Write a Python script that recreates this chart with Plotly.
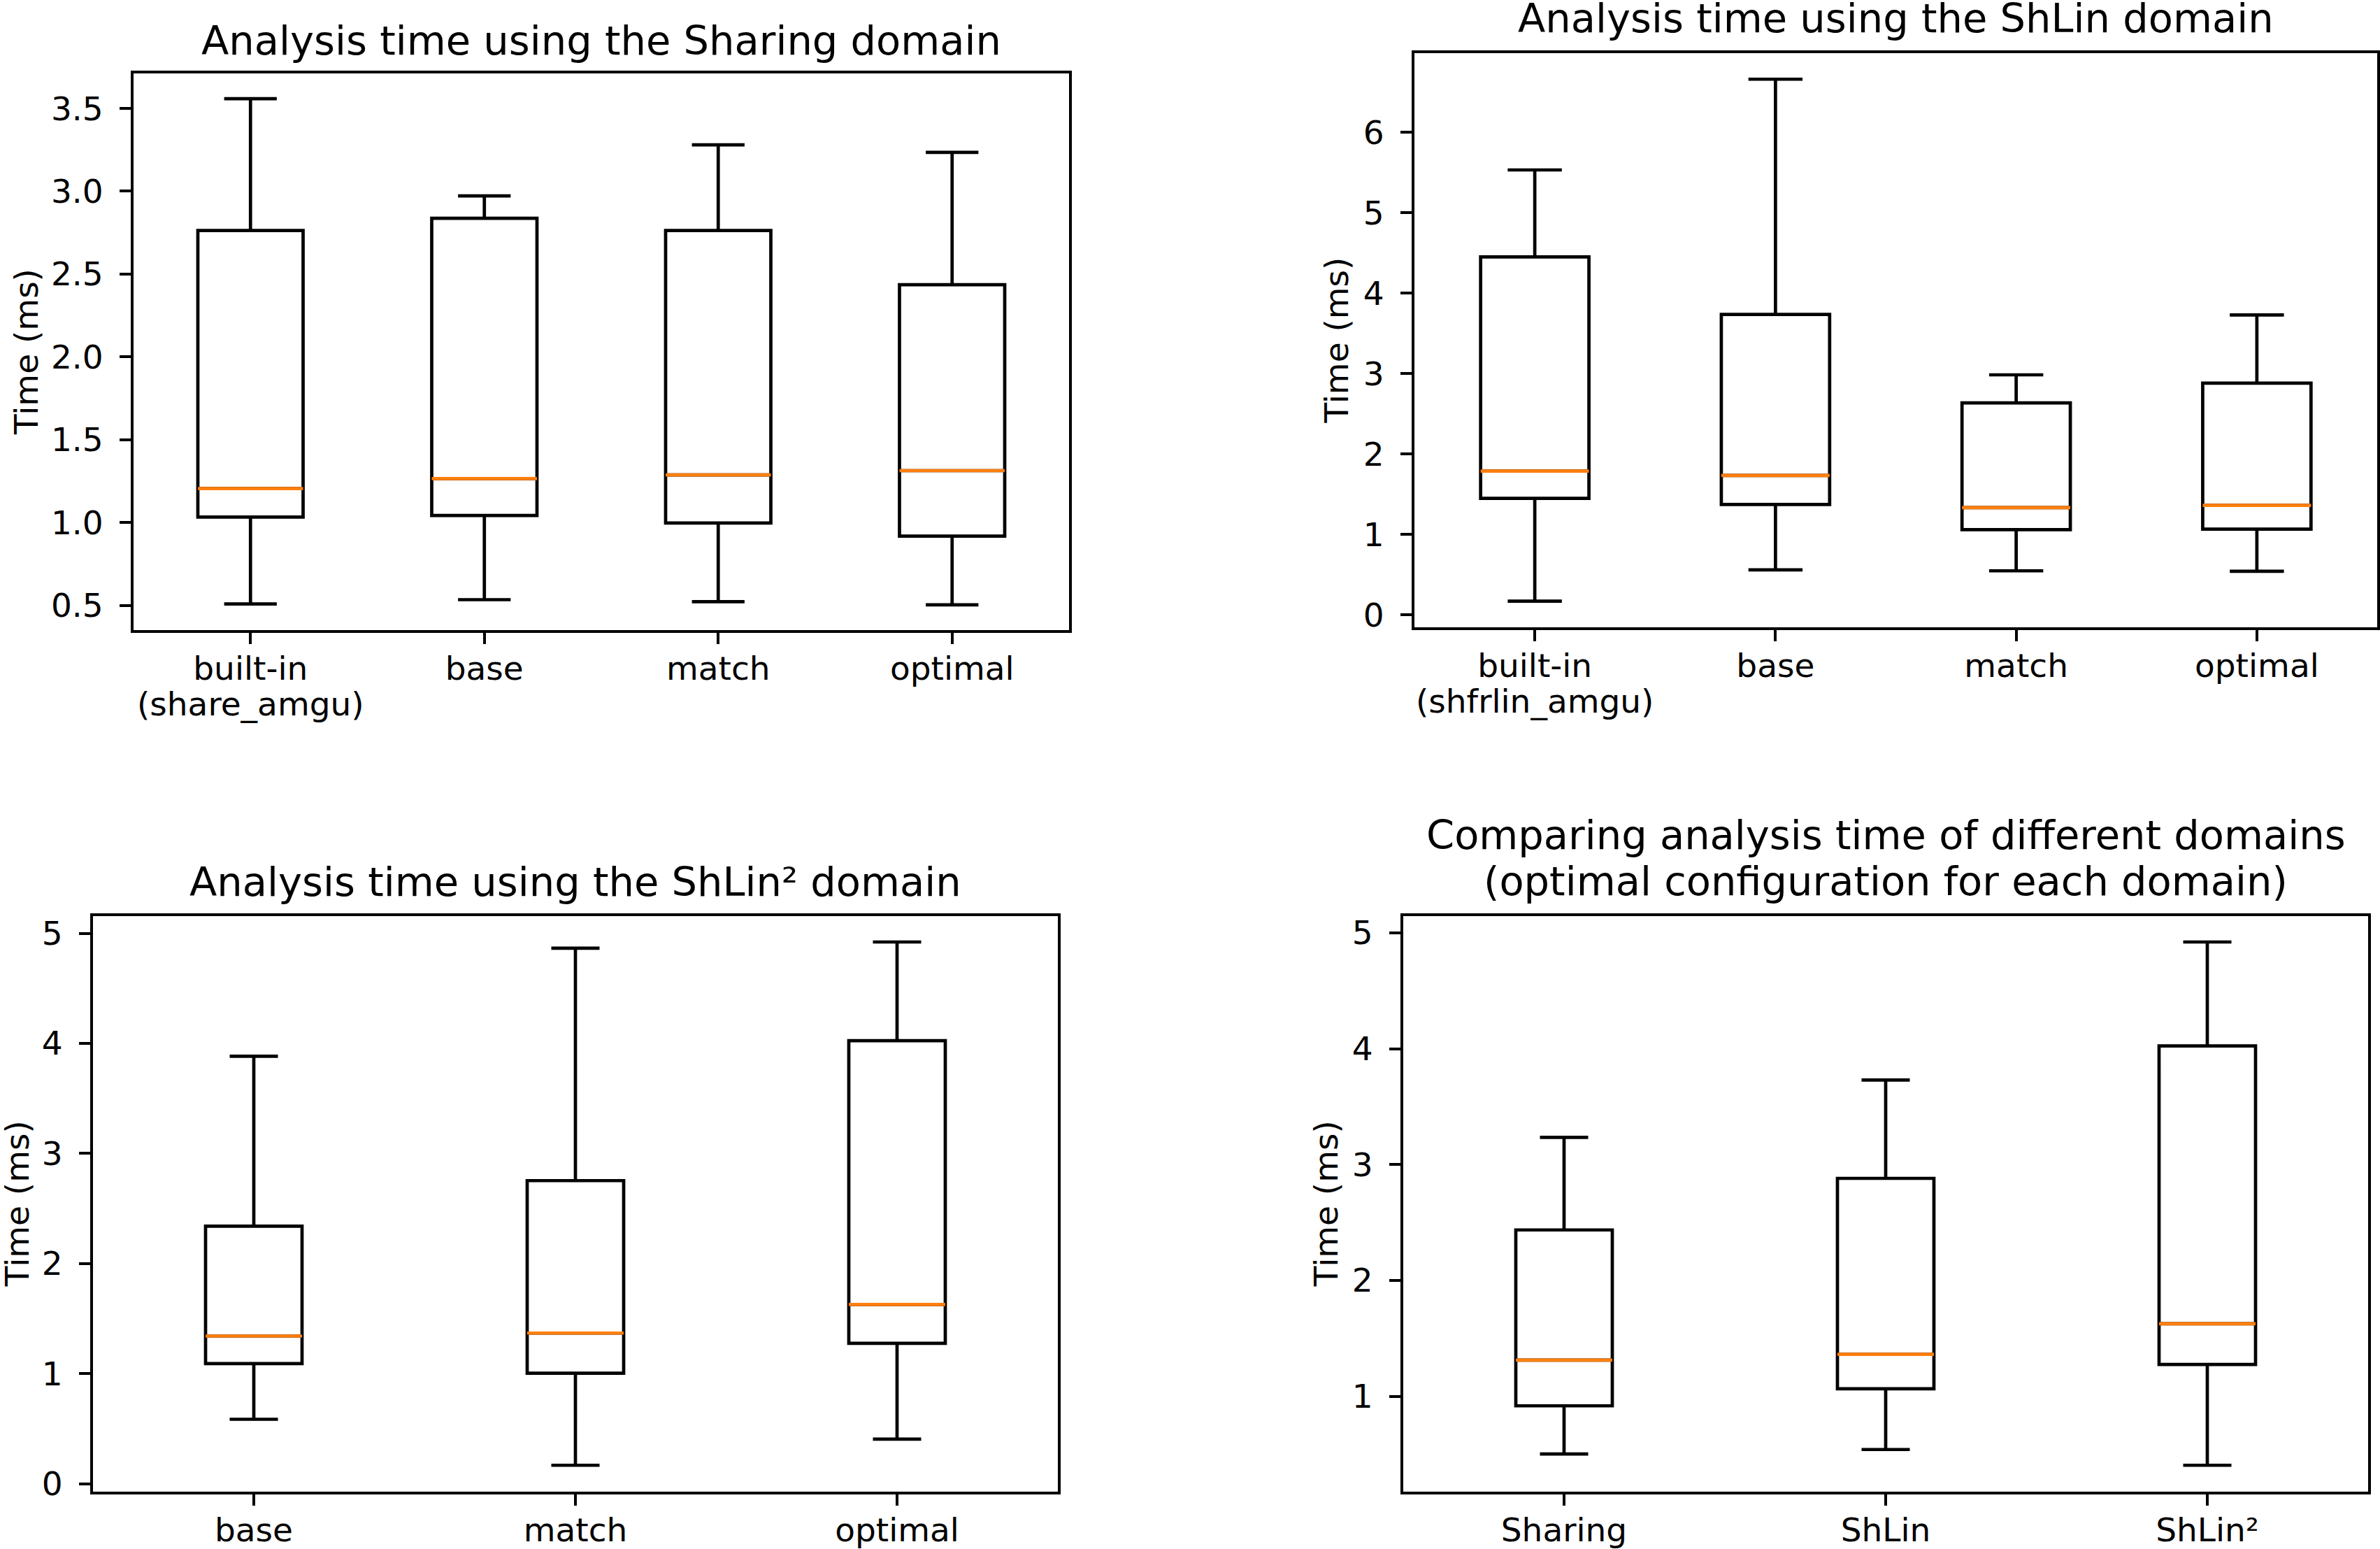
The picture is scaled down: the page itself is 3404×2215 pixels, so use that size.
import plotly.graph_objects as go

W, H = 3404, 2215

# ---------------- data ----------------
sharing_labels = ["built-in<br>(share_amgu)", "base", "match", "optimal"]
sharing_low = [0.508, 0.534, 0.522, 0.503]
sharing_q1 = [1.033, 1.042, 0.997, 0.918]
sharing_med = [1.205, 1.265, 1.287, 1.313]
sharing_q3 = [2.763, 2.837, 2.763, 2.436]
sharing_high = [3.559, 2.972, 3.280, 3.235]
sharing_ticks = [0.5, 1.0, 1.5, 2.0, 2.5, 3.0, 3.5]

shlin_labels = ["built-in<br>(shfrlin_amgu)", "base", "match", "optimal"]
shlin_low = [0.169, 0.559, 0.547, 0.541]
shlin_q1 = [1.449, 1.373, 1.059, 1.065]
shlin_med = [1.787, 1.734, 1.333, 1.362]
shlin_q3 = [4.452, 3.736, 2.636, 2.881]
shlin_high = [5.534, 6.663, 2.985, 3.730]
shlin_ticks = [0, 1, 2, 3, 4, 5, 6]

shlin2_labels = ["base", "match", "optimal"]
shlin2_low = [0.585, 0.167, 0.405]
shlin2_q1 = [1.091, 1.003, 1.275]
shlin2_med = [1.341, 1.368, 1.627]
shlin2_q3 = [2.339, 2.753, 4.024]
shlin2_high = [3.883, 4.864, 4.921]
shlin2_ticks = [0, 1, 2, 3, 4, 5]

compare_labels = ["Sharing", "ShLin", "ShLin²"]
compare_low = [sharing_low[3], shlin_low[3], shlin2_low[2]]
compare_q1 = [sharing_q1[3], shlin_q1[3], shlin2_q1[2]]
compare_med = [sharing_med[3], shlin_med[3], shlin2_med[2]]
compare_q3 = [sharing_q3[3], shlin_q3[3], shlin2_q3[2]]
compare_high = [sharing_high[3], shlin_high[3], shlin2_high[2]]
compare_ticks = [1, 2, 3, 4, 5]

titles = [
    ["Analysis time using the Sharing domain"],
    ["Analysis time using the ShLin domain"],
    ["Analysis time using the ShLin² domain"],
    ["Comparing analysis time of different domains",
     "(optimal configuration for each domain)"],
]
ylabel = "Time (ms)"

# ---------------- layout geometry (pixels) ----------------
FONT = "DejaVu Sans"
TICK_PX = 47
TITLE_PX = 57.5
LW = 4.7       # 1pt lines
SPINE = 3.8    # 0.8pt spines
YS = 0.9925    # observed vertical scale of the rendered page

# axes boxes: left, right, top, bottom (px)
boxes = [
    (191, 1529, 102, 899),
    (2023, 3400, 73, 895),
    (133, 1513, 1308, 2132),
    (2007, 3387, 1308, 2132),
]
title_baselines = [[75], [43], [1280], [1213, 1279]]
ylabel_x = [38, 1911, 24, 1896]

panels = [
    (sharing_labels, sharing_low, sharing_q1, sharing_med, sharing_q3, sharing_high, sharing_ticks, "{:.1f}"),
    (shlin_labels, shlin_low, shlin_q1, shlin_med, shlin_q3, shlin_high, shlin_ticks, "{:d}"),
    (shlin2_labels, shlin2_low, shlin2_q1, shlin2_med, shlin2_q3, shlin2_high, shlin2_ticks, "{:d}"),
    (compare_labels, compare_low, compare_q1, compare_med, compare_q3, compare_high, compare_ticks, "{:d}"),
]


def px_x(px):
    return px / W


def px_y(px):
    return 1 - px / (H * YS)


fig = go.Figure()
layout = {}
annotations = []

for i, (labels, low, q1, med, q3, high, ticks, fmt) in enumerate(panels):
    n = len(labels)
    pos = list(range(1, n + 1))
    w = min(max(0.15 * (n - 1), 0.15), 0.5)
    suffix = "" if i == 0 else str(i + 1)
    xa, ya = "x" + suffix, "y" + suffix

    fig.add_trace(go.Box(
        x=pos, q1=q1, median=med, q3=q3, lowerfence=low, upperfence=high,
        width=w, whiskerwidth=0.5, boxpoints=False,
        line=dict(color="black", width=LW), fillcolor="rgba(0,0,0,0)",
        xaxis=xa, yaxis=ya, showlegend=False, hoverinfo="skip",
    ))
    mx, my = [], []
    for p, m in zip(pos, med):
        mx += [p - w / 2, p + w / 2, None]
        my += [m, m, None]
    fig.add_trace(go.Scatter(
        x=mx, y=my, mode="lines", line=dict(color="#ff7f0e", width=LW),
        xaxis=xa, yaxis=ya, showlegend=False, hoverinfo="skip",
    ))

    lo, hi = min(low), max(high)
    pad = 0.05 * (hi - lo)
    l, r, t, b = boxes[i]
    common = dict(
        showline=True, linecolor="black", linewidth=SPINE, mirror=True,
        ticks="outside", ticklen=16, tickwidth=SPINE, tickcolor="black",
        showgrid=False, zeroline=False,
        tickfont=dict(family=FONT, size=TICK_PX, color="black"),
    )
    first_lines = [s.split("<br>")[0] for s in labels]
    layout["xaxis" + suffix] = dict(
        common, domain=[px_x(l), px_x(r)], range=[0.5, n + 0.5],
        tickvals=pos, ticktext=first_lines, anchor=ya, tickangle=0,
        ticklabelstandoff=-5,
    )
    layout["yaxis" + suffix] = dict(
        common, domain=[px_y(b), px_y(t)], range=[lo - pad, hi + pad],
        tickvals=ticks, ticktext=[fmt.format(v) for v in ticks], anchor=xa,
        ticklabelstandoff=14,
    )

    # second lines of multi-line tick labels (matplotlib line spacing)
    for p, s in zip(pos, labels):
        parts = s.split("<br>")
        if len(parts) > 1:
            annotations.append(dict(
                text=parts[1], xref=xa, yref="paper", x=p,
                y=px_y(b + 106), xanchor="center", yanchor="middle",
                showarrow=False, font=dict(family=FONT, size=TICK_PX, color="black"),
            ))

    cx = (l + r) / 2
    for line, base in zip(titles[i], title_baselines[i]):
        annotations.append(dict(
            text=line, xref="paper", yref="paper", x=px_x(cx),
            y=px_y(base - 0.346 * TITLE_PX), xanchor="center", yanchor="middle",
            showarrow=False, font=dict(family=FONT, size=TITLE_PX, color="black"),
        ))
    annotations.append(dict(
        text=ylabel, xref="paper", yref="paper", x=px_x(ylabel_x[i]),
        y=px_y((t + b) / 2), xanchor="center", yanchor="middle", textangle=-90,
        showarrow=False, font=dict(family=FONT, size=TICK_PX, color="black"),
    ))

fig.update_layout(
    width=W, height=H, margin=dict(l=0, r=0, t=0, b=0),
    paper_bgcolor="white", plot_bgcolor="white",
    font=dict(family=FONT, color="black"),
    boxmode="overlay", annotations=annotations, **layout,
)

fig.write_html("out.html")
